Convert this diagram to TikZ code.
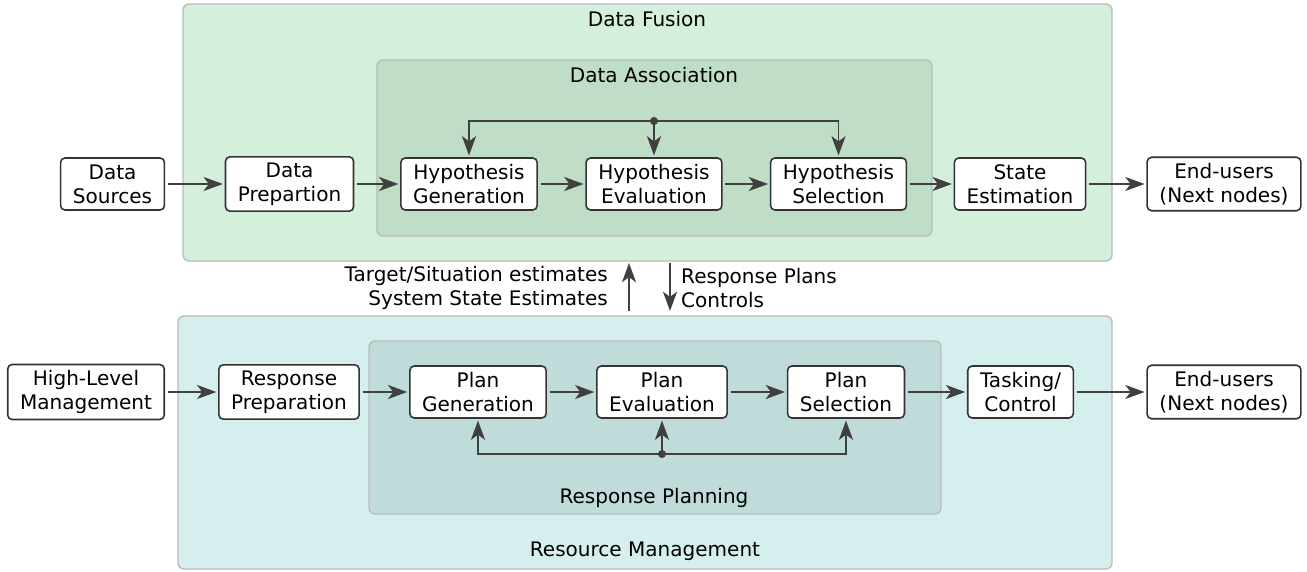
\documentclass[tikz,border=0pt]{standalone}
\usepackage{fontspec}
\setmainfont{DejaVu Sans}
\usetikzlibrary{arrows.meta}

\definecolor{fusionbg}{HTML}{D4F0DC}
\definecolor{assocbg}{HTML}{C0DDC8}
\definecolor{resbg}{HTML}{D5EFEE}
\definecolor{planbg}{HTML}{C0DCDA}
\definecolor{framegray}{HTML}{BBBBBB}
\definecolor{linegray}{HTML}{404040}

\begin{document}
\begin{tikzpicture}[x=0.02cm,y=-0.02cm,
    block/.style={draw=linegray!80!black, fill=white, rounded corners=2.5pt, line width=0.9pt,
                  align=center, font=\fontsize{11.4}{13.6}\selectfont, inner xsep=7pt, minimum height=1.04cm},
    arr/.style={-{Stealth[length=11pt,width=8pt,inset=3pt]}, draw=linegray, line width=1pt,
                shorten >=1pt, shorten <=1.5pt},
    area/.style={draw=framegray, line width=0.8pt, rounded corners=3.5pt},
    lbl/.style={font=\fontsize{11.4}{13.6}\selectfont}]

    \useasboundingbox (0,0) rectangle (1307,571);

    % containers
    \draw[area, fill=fusionbg] (183,4) rectangle (1112,261);
    \draw[area, fill=assocbg] (377,60) rectangle (932,236);
    \draw[area, fill=resbg] (178,316) rectangle (1112,569);
    \draw[area, fill=planbg] (369,341) rectangle (941,514);

    \node[lbl] (fusionlbl) at (647,19) {Data Fusion};
    \node[lbl] (assoclbl) at (654,75) {Data Association};
    \node[lbl] (planlbl) at (654,498) {Response Planning};
    \node[lbl] (reslbl) at (645,551) {Resource Management};

    % data fusion row
    \node[block] (dsrc) at (112.5,184) {Data\\Sources};
    \node[block] (dprep) at (289.5,184) {Data\\Prepartion};
    \node[block] (hgen) at (469,184) {Hypothesis\\Generation};
    \node[block] (heval) at (654,184) {Hypothesis\\Evaluation};
    \node[block] (hsel) at (838.5,184) {Hypothesis\\Selection};
    \node[block] (sest) at (1020,184) {State\\Estimation};
    \node[block] (users1) at (1224,184) {End-users\\(Next nodes)};

    \draw[arr] (dsrc) -- (dprep);
    \draw[arr] (dprep) -- (hgen);
    \draw[arr] (hgen) -- (heval);
    \draw[arr] (heval) -- (hsel);
    \draw[arr] (hsel) -- (sest);
    \draw[arr] (sest) -- (users1);

    \coordinate (fbtop) at (654,121);
    \draw[arr, shorten <=0pt] (fbtop) -| (hgen.north);
    \draw[arr, shorten <=0pt] (fbtop) -| (hsel.north);
    \draw[arr] (fbtop) -- (heval.north);
    \fill[linegray] (fbtop) circle (2.3pt);

    % resource management row
    \node[block] (hlm) at (86,392) {High-Level\\Management};
    \node[block] (rprep) at (289,392) {Response\\Preparation};
    \node[block] (pgen) at (478,392) {Plan\\Generation};
    \node[block] (peval) at (662,392) {Plan\\Evaluation};
    \node[block] (psel) at (846,392) {Plan\\Selection};
    \node[block] (task) at (1020.5,392) {Tasking/\\Control};
    \node[block] (users2) at (1224,392) {End-users\\(Next nodes)};

    \draw[arr] (hlm) -- (rprep);
    \draw[arr] (rprep) -- (pgen);
    \draw[arr] (pgen) -- (peval);
    \draw[arr] (peval) -- (psel);
    \draw[arr] (psel) -- (task);
    \draw[arr] (task) -- (users2);

    \coordinate (fbbot) at (662,454);
    \draw[arr, shorten <=0pt] (fbbot) -| (pgen.south);
    \draw[arr, shorten <=0pt] (fbbot) -| (psel.south);
    \draw[arr] (fbbot) -- (peval.south);
    \fill[linegray] (fbbot) circle (2.3pt);

    % exchange between the two levels
    \coordinate (upS) at (629,311);
    \coordinate (upE) at (629,263);
    \coordinate (dnS) at (670,263);
    \coordinate (dnE) at (670,311);
    \draw[arr, shorten <=0pt, shorten >=0pt] (upS) -- (upE);
    \draw[arr, shorten <=0pt, shorten >=0pt] (dnS) -- (dnE);
    \node[lbl, align=right, anchor=east] (upText) at (614,288) {Target/Situation estimates\\System State Estimates};
    \node[lbl, align=left, anchor=west] (dnText) at (675,288) {Response Plans\\Controls};

\end{tikzpicture}
\end{document}
